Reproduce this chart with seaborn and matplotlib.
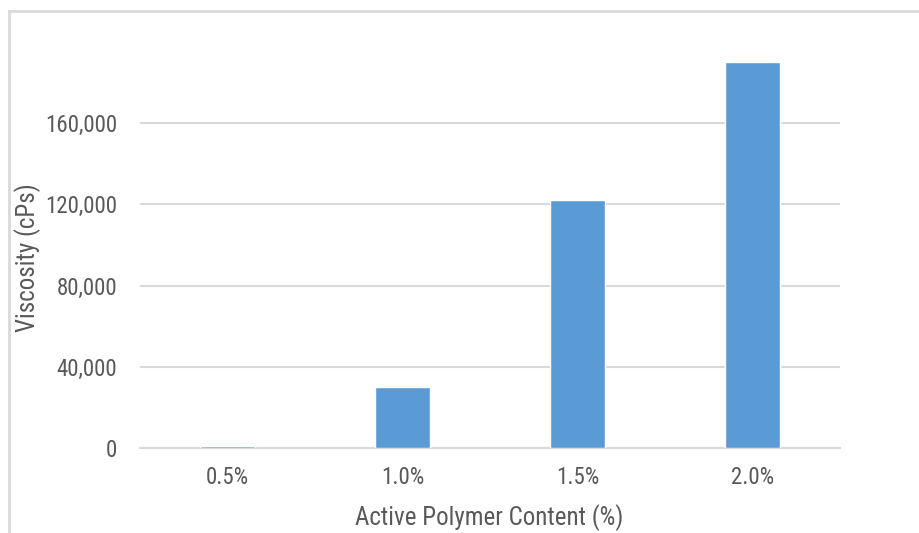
import matplotlib
matplotlib.use("Agg")
import matplotlib.pyplot as plt
import seaborn as sns
import pandas as pd
from matplotlib.patches import Rectangle
from matplotlib.ticker import FuncFormatter

categories = ["0.5%", "1.0%", "1.5%", "2.0%"]
viscosity = [1200, 30000, 122000, 190000]
y_ticks = [0, 40000, 80000, 120000, 160000]

sns.set_theme(style="white")
plt.rcParams['font.family'] = ['Roboto Condensed', 'PT Sans Narrow', 'Liberation Sans', 'DejaVu Sans']

df = pd.DataFrame({"cat": categories, "val": viscosity})

fig = plt.figure(figsize=(9.2, 5.33), dpi=100)
ax = fig.add_axes([140/920, (533-448.3)/533, 700/920, 407/533])

sns.barplot(data=df, x="cat", y="val", color="#5B9BD5", width=0.314,
            saturation=1, ax=ax, zorder=3)

ax.set_ylim(0, 200000)
ax.set_xlim(-0.5, 3.5)
ax.set_yticks(y_ticks)
ax.yaxis.set_major_formatter(FuncFormatter(lambda v, p: f"{int(v):,}"))
ax.grid(axis="y", color="#D9D9D9", linewidth=1.5, zorder=0)
ax.grid(axis="x", visible=False)
for s in ["top", "right", "left"]:
    ax.spines[s].set_visible(False)
ax.spines["bottom"].set_color("#D9D9D9")
ax.spines["bottom"].set_linewidth(1.5)
ax.set_axisbelow(True)

ax.tick_params(axis="y", length=0, pad=16.5, labelsize=16.5, labelcolor="#595959")
ax.tick_params(axis="x", length=0, pad=13, labelsize=16.5, labelcolor="#595959")

ax.set_xlabel("Active Polymer Content (%)", fontsize=18, color="#595959")
ax.set_ylabel("Viscosity (cPs)", fontsize=18, color="#595959")
ax.xaxis.set_label_coords(0.4985, -0.137)
ax.yaxis.set_label_coords(-0.16, 0.468)
ax.yaxis.label.set_va("center")
ax.xaxis.label.set_va("top")

fig.patches.append(Rectangle((9/920, -0.1), 1.2, (533-11)/533 + 0.1,
                             transform=fig.transFigure, fill=False,
                             edgecolor="#D9D9D9", linewidth=2, zorder=0))

fig.savefig("out.png", dpi=100)
